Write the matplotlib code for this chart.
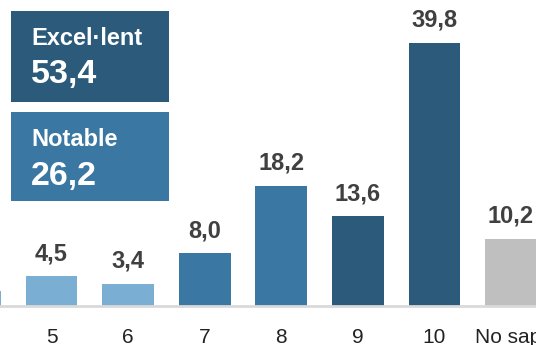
import matplotlib
matplotlib.use("Agg")
import matplotlib.pyplot as plt
from matplotlib.patches import Rectangle

plt.rcParams['font.family'] = ['Liberation Sans', 'DejaVu Sans']

categories = ["4", "5", "6", "7", "8", "9", "10", "No sap/\nNo contesta"]
values = [2.2, 4.5, 3.4, 8.0, 18.2, 13.6, 39.8, 10.2]
groups = ["low", "low", "low", "mid", "mid", "high", "high", "na"]

summary_labels = ["Excel·lent", "Notable"]
summary_values = [53.4, 26.2]

colors = {"low": "#7aaed3", "mid": "#3a77a2", "high": "#2b5a7a", "na": "#bfbfbf"}
box_colors = ["#2b5a7a", "#3a77a2"]

W, H = 536, 345
fig = plt.figure(figsize=(W / 100, H / 100), dpi=100)
ax = fig.add_axes([0, 39 / H, 1, 1 - 39 / H])

x = list(range(len(categories)))
bars = ax.bar(x, values, width=0.675, color=[colors[g] for g in groups], zorder=2)

for xi, v in zip(x, values):
    ax.annotate(f"{v:.1f}".replace(".", ","), (xi, v), xytext=(0, 11.5),
                textcoords="offset points", ha="center", va="baseline",
                fontsize=17, fontweight="bold", color="#404040")

ax.set_xticks(x)
ax.set_xticklabels(categories, fontsize=15, color="#222222")
ax.set_xlim(0.328, 7.326)
ax.set_ylim(0, 306 / 6.61)
ax.tick_params(axis="x", length=0, pad=15.5)
ax.set_yticks([])
for s in ["top", "left", "right"]:
    ax.spines[s].set_visible(False)
ax.spines["bottom"].set_color("#d9d9d9")
ax.spines["bottom"].set_linewidth(2)

# summary boxes
box_tops = [11, 112]
box_bottoms = [102, 201]
for lab, val, c, t, b in zip(summary_labels, summary_values, box_colors, box_tops, box_bottoms):
    fig.add_artist(Rectangle((11 / W, 1 - b / H), (169 - 11) / W, (b - t) / H,
                             transform=fig.transFigure, facecolor=c, edgecolor="none", zorder=3))
    fig.text(31 / W, 1 - (t + 34) / H, lab, fontsize=17, fontweight="bold",
             color="white", va="baseline", ha="left", zorder=4)
    fig.text(31 / W, 1 - (t + 72.5) / H, f"{val:.1f}".replace(".", ","), fontsize=24.5,
             fontweight="bold", color="white", va="baseline", ha="left", zorder=4)

fig.savefig("out.png", dpi=100)
